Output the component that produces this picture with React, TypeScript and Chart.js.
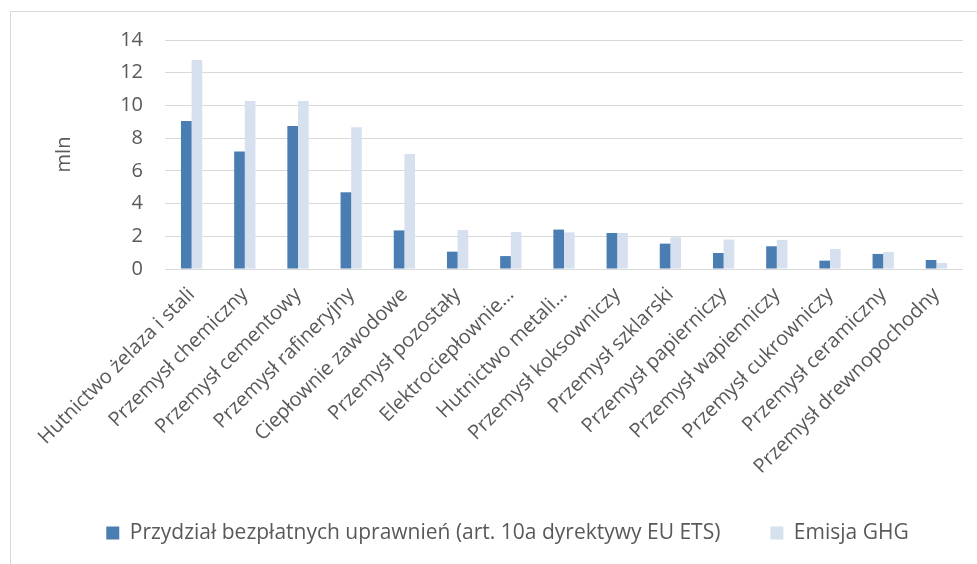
import React, { useEffect, useRef } from "react";
import { Chart, registerables } from "chart.js";

Chart.register(...registerables);

const categories: string[] = [
  "Hutnictwo żelaza i stali",
  "Przemysł chemiczny",
  "Przemysł cementowy",
  "Przemysł rafineryjny",
  "Ciepłownie zawodowe",
  "Przemysł pozostały",
  "Elektrociepłownie…",
  "Hutnictwo metali…",
  "Przemysł koksowniczy",
  "Przemysł szklarski",
  "Przemysł papierniczy",
  "Przemysł wapienniczy",
  "Przemysł cukrowniczy",
  "Przemysł ceramiczny",
  "Przemysł drewnopochodny",
];

const przydzial: number[] = [9.05, 7.19, 8.74, 4.69, 2.36, 1.06, 0.79, 2.41, 2.2, 1.55, 0.98, 1.39, 0.51, 0.92, 0.55];
const emisja: number[] = [12.78, 10.27, 10.27, 8.66, 7.03, 2.38, 2.26, 2.24, 2.2, 1.94, 1.8, 1.78, 1.22, 1.04, 0.37];

const seriesNames: string[] = [
  "Przydział bezpłatnych uprawnień (art. 10a dyrektywy EU ETS)",
  "Emisja GHG",
];
const yTitle = "mln";
const yMax = 14;
const yStep = 2;

const FONT = "'Open Sans', 'DejaVu Sans', sans-serif";
const TEXT = "#595959";

export default function App() {
  const ref = useRef<HTMLCanvasElement | null>(null);

  useEffect(() => {
    if (!ref.current) return;
    const chart = new Chart(ref.current, {
      type: "bar",
      data: {
        labels: categories,
        datasets: [
          {
            label: seriesNames[0],
            data: przydzial,
            backgroundColor: "#4a7eb2",
            categoryPercentage: 0.4,
            barPercentage: 1,
          },
          {
            label: seriesNames[1],
            data: emisja,
            backgroundColor: "#d6e0ef",
            categoryPercentage: 0.4,
            barPercentage: 1,
          },
        ],
      },
      options: {
        responsive: false,
        animation: false,
        devicePixelRatio: 1,
        layout: { padding: { left: 52, right: 14, top: 40, bottom: 10.5 } },
        plugins: {
          title: { display: false },
          tooltip: { enabled: false },
          legend: {
            position: "bottom",
            labels: {
              boxWidth: 13,
              boxHeight: 13,
              padding: 50,
              color: TEXT,
              font: { family: FONT, size: 21 },
            },
          },
        },
        scales: {
          x: {
            grid: { display: false },
            border: { display: false },
            ticks: {
              color: TEXT,
              font: { family: FONT, size: 20 },
              minRotation: 45,
              maxRotation: 45,
              autoSkip: false,
              padding: 6,
            },
            afterFit: (s: any) => {
              s.height = 203.5;
            },
          },
          y: {
            min: 0,
            max: yMax,
            border: { display: false },
            grid: { color: "#d9d9d9", lineWidth: 1, drawTicks: false },
            ticks: {
              stepSize: yStep,
              color: TEXT,
              font: { family: FONT, size: 20 },
              padding: 22,
            },
            title: {
              display: true,
              text: yTitle,
              color: TEXT,
              font: { family: FONT, size: 20 },
              padding: 0,
            },
            afterFit: (s: any) => {
              s.width = 113;
            },
          },
        },
      },
    });
    return () => chart.destroy();
  }, []);

  return (
    <div style={{ position: "fixed", left: 0, top: 0, width: 977, height: 564, background: "#fff" }}>
      <div
        style={{
          position: "absolute",
          left: 10,
          top: 11,
          width: 967,
          height: 553,
          borderTop: "1px solid #d9d9d9",
          borderLeft: "1px solid #d9d9d9",
          boxSizing: "border-box",
        }}
      />
      <canvas ref={ref} width={977} height={564} style={{ position: "absolute", left: 0, top: 0 }} />
    </div>
  );
}
